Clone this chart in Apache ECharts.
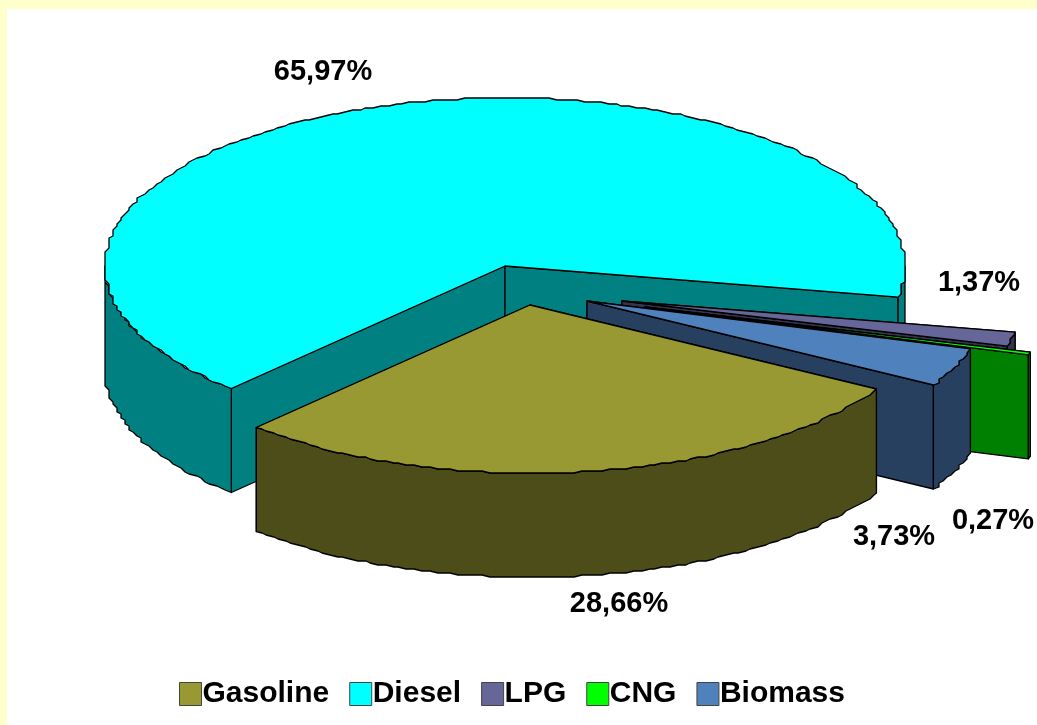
<!DOCTYPE html>
<html>
<head>
<meta charset="utf-8">
<style>html,body{margin:0;padding:0;background:#fff}#c{width:1037px;height:725px}</style>
<script src="https://cdn.jsdelivr.net/npm/echarts@6/dist/echarts.min.js"></script>
</head>
<body>
<div id="c"></div>
<script>
// Data
const categories = ['Gasoline', 'Diesel', 'LPG', 'CNG', 'Biomass'];
const shares = [28.66, 65.97, 1.37, 0.27, 3.73];

// Styling and layout (not data)
const topColors = ['#999933', '#00FFFF', '#666699', '#00FF00', '#4F81BD'];
const sideColors = ['#4D4D19', '#008080', '#33334D', '#008000', '#284060'];
const apexes = [[530, 305], [505, 266], [622, 301], [645, 307], [587, 301]];
const labelCenters = [[619, 604], [323, 72], [979, 283], [993, 521], [894, 537]];
const paintOrder = [1, 2, 3, 4, 0];
const RX = 400, RY = 168, DEPTH = 104, START = 30, GX = 4, GY = 2, STEP = 1.1;

const total = shares.reduce((a, b) => a + b, 0);
const ranges = [];
shares.reduce((acc, v) => {
  const next = acc + v / total * 360;
  ranges.push([acc, next]);
  return next;
}, START);

function edgePoint(t) {
  const r = t * Math.PI / 180;
  return [RX * Math.cos(r), RY * Math.sin(r)];
}
function arcPoints(a, b) {
  const pts = [];
  const n = Math.max(1, Math.round((b - a) / STEP));
  for (let i = 0; i <= n; i++) {
    const t = a + (b - a) * i / n;
    const p = edgePoint(t);
    if (i === 0 || i === n) pts.push(p);
    else pts.push([Math.round(p[0] / GX) * GX, Math.round(p[1] / GY) * GY]);
  }
  return pts;
}
function shift(pts, dx, dy) { return pts.map(p => [p[0] + dx, p[1] + dy]); }

function poly(points, fill) {
  return {
    type: 'polygon', silent: true,
    shape: { points: points },
    style: { fill: fill, stroke: '#000', lineWidth: 1.3, lineJoin: 'round' }
  };
}

function buildSlice(i) {
  const a = ranges[i][0], b = ranges[i][1];
  const c = apexes[i];
  const top = shift(arcPoints(a, b), c[0], c[1]);
  const kids = [];
  const side = sideColors[i];
  const apexDown = [c[0], c[1] + DEPTH];
  [top[0], top[top.length - 1]].forEach(e => {
    kids.push(poly([c, e, [e[0], e[1] + DEPTH], apexDown], side));
  });
  // outer wall: the near half of the rim (sin t > 0)
  [[0, 180], [360, 540]].forEach(w => {
    const lo = Math.max(a, w[0]), hi = Math.min(b, w[1]);
    if (hi > lo) {
      const rim = shift(arcPoints(lo, hi), c[0], c[1]);
      kids.push(poly(rim.concat(shift(rim, 0, DEPTH).reverse()), side));
    }
  });
  kids.push(poly([c].concat(top), topColors[i]));
  kids.push({
    type: 'text', silent: true,
    style: {
      text: shares[i].toFixed(2).replace('.', ',') + '%',
      x: labelCenters[i][0], y: labelCenters[i][1],
      align: 'center', verticalAlign: 'middle',
      textAlign: 'center', textVerticalAlign: 'middle',
      fontFamily: '"Liberation Sans", Arial, sans-serif',
      fontWeight: 'bold', fontSize: 29, fill: '#000'
    }
  });
  return { type: 'group', children: kids };
}

const series = categories.map((name, i) => ({
  type: 'custom',
  name: name,
  coordinateSystem: 'none',
  z: 10 + paintOrder.indexOf(i),
  silent: true,
  itemStyle: { color: topColors[i] },
  data: [[shares[i]]],
  renderItem: () => buildSlice(i)
}));

const chart = echarts.init(document.getElementById('c'), null, { renderer: 'canvas' });
chart.setOption({
  animation: false,
  backgroundColor: '#FFFFCC',
  graphic: [{
    type: 'rect', z: 0, silent: true,
    shape: { x: 7, y: 9, width: 1030, height: 716 },
    style: { fill: '#fff' }
  }],
  legend: {
    data: categories,
    left: 179, top: 679, padding: 0,
    itemWidth: 22, itemHeight: 23, itemGap: 20,
    icon: 'rect', selectedMode: false,
    itemStyle: { borderColor: '#444', borderWidth: 1 },
    textStyle: {
      fontFamily: '"Liberation Sans", Arial, sans-serif',
      fontWeight: 'bold', fontSize: 30, color: '#000',
      padding: [0, 0, 4, -4]
    }
  },
  series: series
});
</script>
</body>
</html>
